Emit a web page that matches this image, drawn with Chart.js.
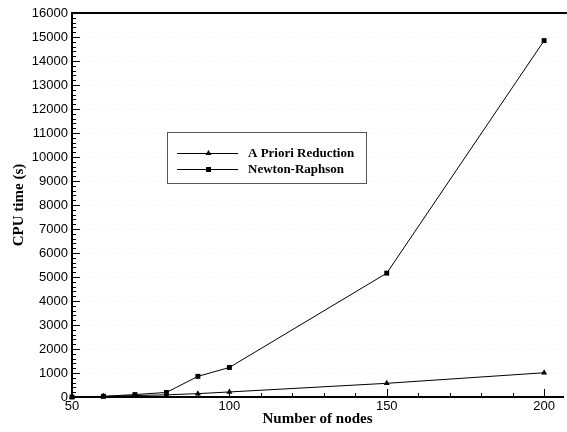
<!DOCTYPE html>
<html>
<head>
<meta charset="utf-8">
<script src="https://cdn.jsdelivr.net/npm/chart.js@4.4.1/dist/chart.umd.min.js"></script>
<style>
  html, body { margin: 0; padding: 0; background: #fff; }
  #wrap { width: 567px; height: 432px; }
</style>
</head>
<body>
<div id="wrap"><canvas id="chart" width="567" height="432"></canvas></div>
<script>
// Data
const nodes = [50, 60, 70, 80, 90, 100, 150, 200];
const aPriori = [0, 20, 60, 90, 140, 210, 570, 1010];
const newton = [0, 30, 100, 190, 860, 1230, 5160, 14850];
const xTickLabels = [50, 100, 150, 200];

// Ticks drawn inward, plus the top frame line
const frameTicks = {
  id: 'frameTicks',
  afterDraw(chart) {
    const { ctx, chartArea: a, scales: { x, y } } = chart;
    ctx.save();
    ctx.strokeStyle = '#000';
    ctx.lineWidth = 1;
    ctx.beginPath();
    for (let v = 0; v <= 16000; v += 200) {
      const py = Math.round(y.getPixelForValue(v)) + 0.5;
      const len = v % 1000 === 0 ? 8 : 4;
      ctx.moveTo(a.left, py);
      ctx.lineTo(a.left + len, py);
    }
    for (let v = 50; v <= 200; v += 10) {
      const px = Math.round(x.getPixelForValue(v)) + 0.5;
      const len = v % 50 === 0 ? 8 : 4;
      ctx.moveTo(px, a.bottom);
      ctx.lineTo(px, a.bottom - len);
    }
    ctx.stroke();
    ctx.lineWidth = 2;
    ctx.beginPath();
    ctx.moveTo(a.left, a.top);
    ctx.lineTo(chart.width, a.top);
    ctx.stroke();
    ctx.restore();
  }
};

// Boxed legend inside the plot
const boxLegend = {
  id: 'boxLegend',
  afterDraw(chart) {
    const { ctx } = chart;
    const bx = 167, by = 132, bw = 199, bh = 51;
    ctx.save();
    ctx.fillStyle = '#fff';
    ctx.fillRect(bx, by, bw, bh);
    ctx.strokeStyle = '#555';
    ctx.lineWidth = 1;
    ctx.strokeRect(bx + 0.5, by + 0.5, bw, bh);
    chart.data.datasets.forEach((ds, i) => {
      const ly = by + 21 + i * 16;
      ctx.strokeStyle = '#000';
      ctx.beginPath();
      ctx.moveTo(bx + 10, ly + 0.5);
      ctx.lineTo(bx + 71, ly + 0.5);
      ctx.stroke();
      ctx.fillStyle = '#000';
      if (ds.pointStyle === 'triangle') {
        ctx.beginPath();
        ctx.moveTo(bx + 41.5, ly - 3);
        ctx.lineTo(bx + 44.5, ly + 2);
        ctx.lineTo(bx + 38.5, ly + 2);
        ctx.closePath();
        ctx.fill();
      } else {
        ctx.fillRect(bx + 39, ly - 2, 5, 5);
      }
      ctx.font = 'bold 13px "Liberation Serif", "Times New Roman", serif';
      ctx.textBaseline = 'middle';
      ctx.fillText(ds.label, bx + 81, ly + 1);
    });
    ctx.restore();
  }
};

new Chart(document.getElementById('chart'), {
  type: 'line',
  data: {
    labels: nodes,
    datasets: [
      {
        label: 'A Priori Reduction',
        data: nodes.map((n, i) => ({ x: n, y: aPriori[i] })),
        borderColor: '#000',
        backgroundColor: '#000',
        borderWidth: 1,
        pointStyle: 'triangle',
        pointRadius: 3.5,
        pointBorderWidth: 0
      },
      {
        label: 'Newton-Raphson',
        data: nodes.map((n, i) => ({ x: n, y: newton[i] })),
        borderColor: '#000',
        backgroundColor: '#000',
        borderWidth: 1,
        pointStyle: 'rect',
        pointRadius: 3.5,
        pointBorderWidth: 0
      }
    ]
  },
  options: {
    responsive: false,
    animation: false,
    clip: false,
    layout: { padding: { top: 13, right: 0, left: 0, bottom: 0 } },
    plugins: {
      legend: { display: false },
      tooltip: { enabled: false }
    },
    scales: {
      x: {
        type: 'linear',
        min: 50,
        max: 206,
        afterBuildTicks: s => { s.ticks = xTickLabels.map(v => ({ value: v })); },
        afterFit: s => { s.height = 35; },
        grid: { display: false, drawTicks: false },
        border: { color: '#000', width: 2 },
        ticks: {
          color: '#000',
          padding: 2,
          maxRotation: 0,
          callback: v => String(v),
          font: { family: '"Liberation Sans", Arial, sans-serif', size: 13 }
        },
        title: {
          display: true,
          text: 'Number of nodes',
          color: '#000',
          padding: { top: 0, bottom: 4 },
          font: { family: '"Liberation Serif", "Times New Roman", serif', size: 15, weight: 'bold' }
        }
      },
      y: {
        min: 0,
        max: 16000,
        afterFit: s => { s.width = 72; },
        grid: {
          color: 'rgba(0,0,0,0.05)',
          drawTicks: false,
          lineWidth: 1
        },
        border: { color: '#000', width: 2, dash: [2, 3] },
        ticks: {
          stepSize: 1000,
          color: '#000',
          padding: 4,
          callback: v => String(v),
          font: { family: '"Liberation Sans", Arial, sans-serif', size: 13 }
        },
        title: {
          display: true,
          text: 'CPU time (s)',
          color: '#000',
          padding: { top: 10, bottom: 0 },
          font: { family: '"Liberation Serif", "Times New Roman", serif', size: 15, weight: 'bold' }
        }
      }
    }
  },
  plugins: [frameTicks, boxLegend]
});
</script>
</body>
</html>
